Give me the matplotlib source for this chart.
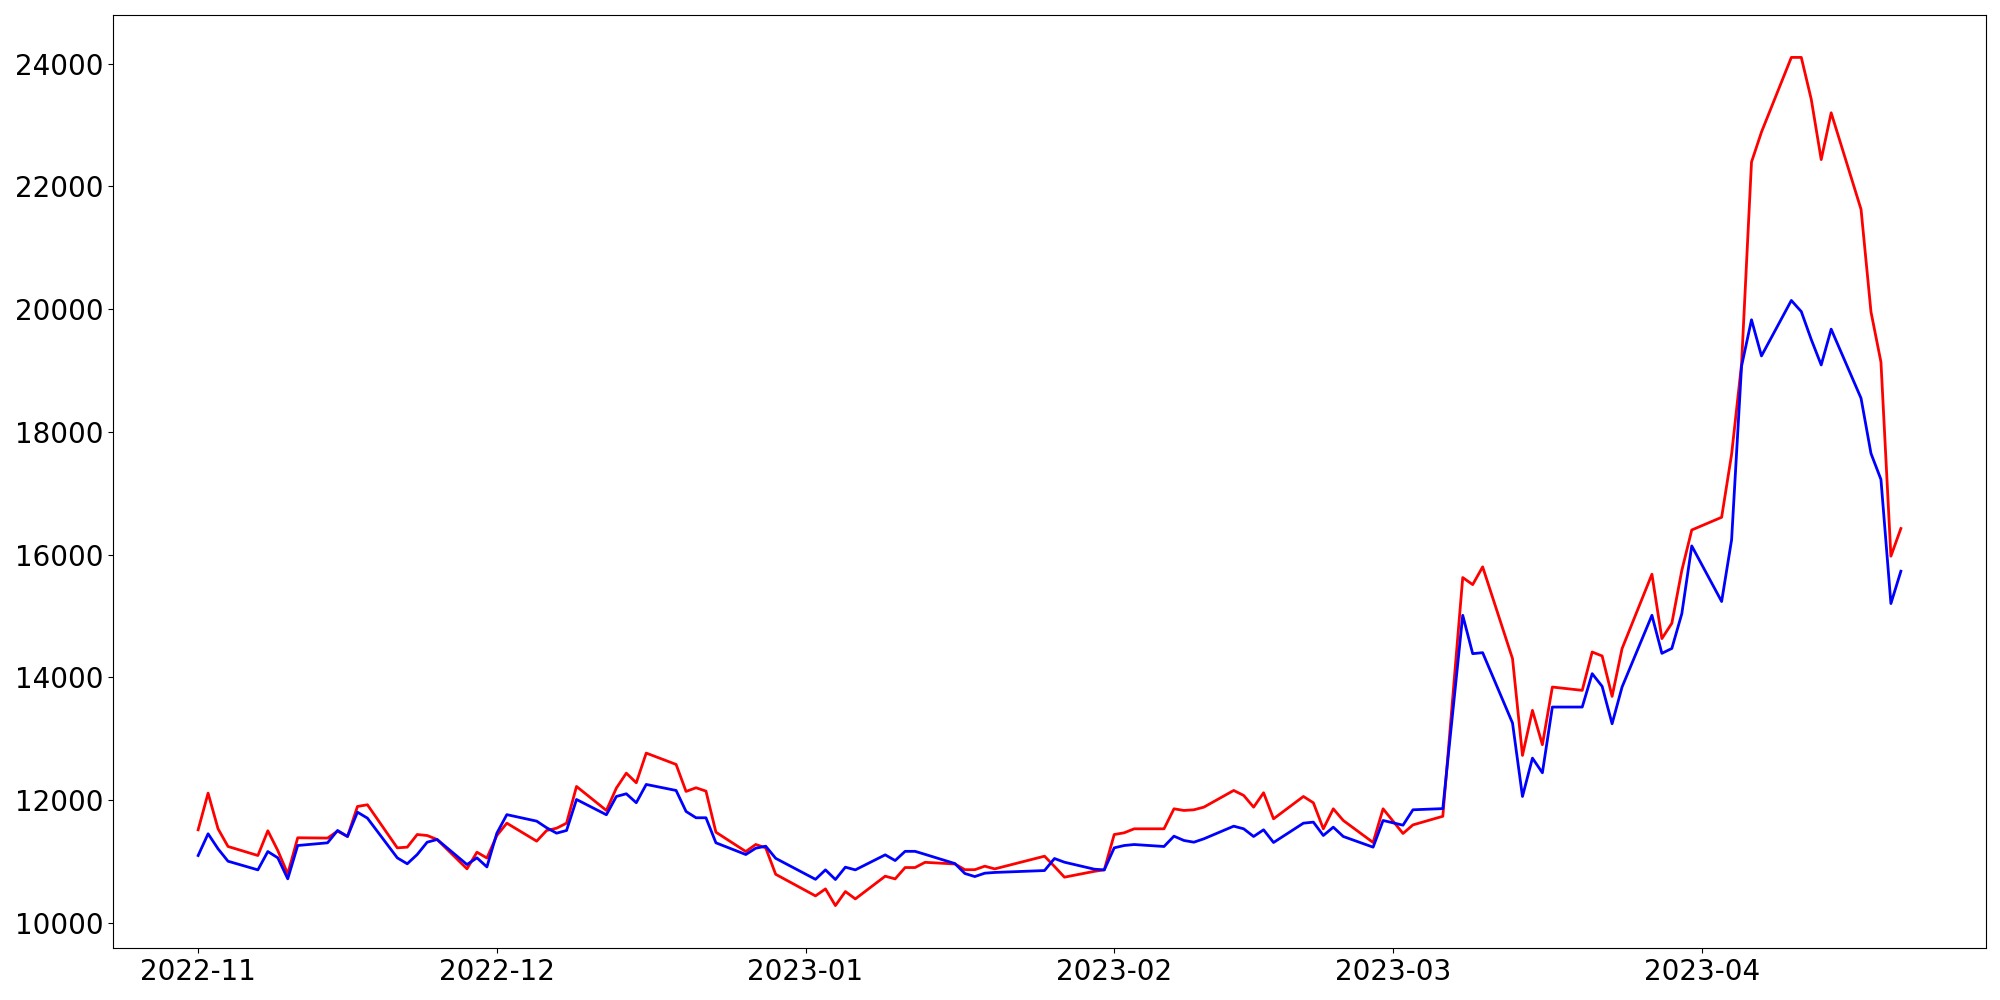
import matplotlib
matplotlib.use("Agg")
import matplotlib.pyplot as plt
import matplotlib.dates as mdates
import pandas as pd

# Trading days (KRX calendar) from 2022-11-01 to 2023-04-21
start_date = "2022-11-01"
end_date = "2023-04-21"
holidays = ["2022-12-30", "2023-01-23", "2023-01-24", "2023-03-01"]
dates = pd.bdate_range(start_date, end_date, freq="C", holidays=holidays)

red_values = [
    # Nov
    11515, 12112, 11531, 11243, 11096, 11499, 11177, 10797, 11385, 11380,
    11493, 11406, 11895, 11923, 11221, 11232, 11438, 11422, 11357, 10879,
    11150, 11055,
    # Dec
    11422, 11623, 11330, 11504, 11541, 11623, 12221, 11830, 12194, 12438,
    12281, 12765, 12580, 12140, 12200, 12145, 11476, 11161, 11276, 11221,
    10790,
    # Jan
    10438, 10552, 10280, 10509, 10389, 10759, 10715, 10900, 10900, 10985,
    10958, 10865, 10865, 10922, 10878, 11085, 10917, 10743, 10838, 10862,
    # Feb
    11438, 11466, 11531, 11531, 11857, 11830, 11841, 11884, 12156, 12075,
    11884, 12118, 11694, 12058, 11955, 11531, 11857, 11667, 11308, 11857,
    # Mar
    11455, 11595, 11735, 13678, 15625, 15510, 15799, 14303, 12727, 13461,
    12901, 13841, 13787, 14412, 14347, 13689, 14467, 15679, 14630, 14880,
    15740, 16400,
    # Apr
    16607, 17631, 19100, 22395, 22883, 24100, 24100, 23418, 22435, 23198,
    21625, 19953, 19136, 15973, 16424,
]

blue_values = [
    # Nov
    11096, 11450, 11205, 11003, 10862, 11161, 11058, 10716, 11259, 11303,
    11504, 11406, 11802, 11705, 11058, 10961, 11112, 11313, 11357, 10949,
    11058, 10910,
    # Dec
    11460, 11762, 11656, 11548, 11460, 11504, 12009, 11760, 12058, 12102,
    11956, 12254, 12156, 11814, 11711, 11711, 11303, 11112, 11215, 11248,
    11050,
    # Jan
    10708, 10862, 10705, 10906, 10862, 11107, 11014, 11164, 11164, 11115,
    10965, 10803, 10753, 10808, 10820, 10851, 11047, 10987, 10873, 10862,
    # Feb
    11221, 11259, 11275, 11243, 11411, 11341, 11313, 11368, 11574, 11531,
    11406, 11515, 11308, 11623, 11640, 11422, 11558, 11406, 11232, 11667,
    # Mar
    11590, 11841, 11860, 13434, 15010, 14385, 14401, 13254, 12058, 12683,
    12444, 13515, 13515, 14059, 13852, 13243, 13841, 15010, 14390, 14470,
    15035, 16140,
    # Apr
    15235, 16239, 19069, 19825, 19236, 20140, 19959, 19504, 19089, 19672,
    18547, 17647, 17223, 15201, 15728,
]

fig = plt.figure(figsize=(20, 10), dpi=100)
ax = fig.add_axes([0.0565, 0.052, 0.993 - 0.0565, 0.985 - 0.052])

ax.plot(dates, red_values, color="red", linewidth=2)
ax.plot(dates, blue_values, color="blue", linewidth=2)

ax.xaxis.set_major_locator(mdates.MonthLocator())
ax.xaxis.set_major_formatter(mdates.DateFormatter("%Y-%m"))
ax.tick_params(axis="both", labelsize=20)

fig.savefig("out.png", dpi=100)
